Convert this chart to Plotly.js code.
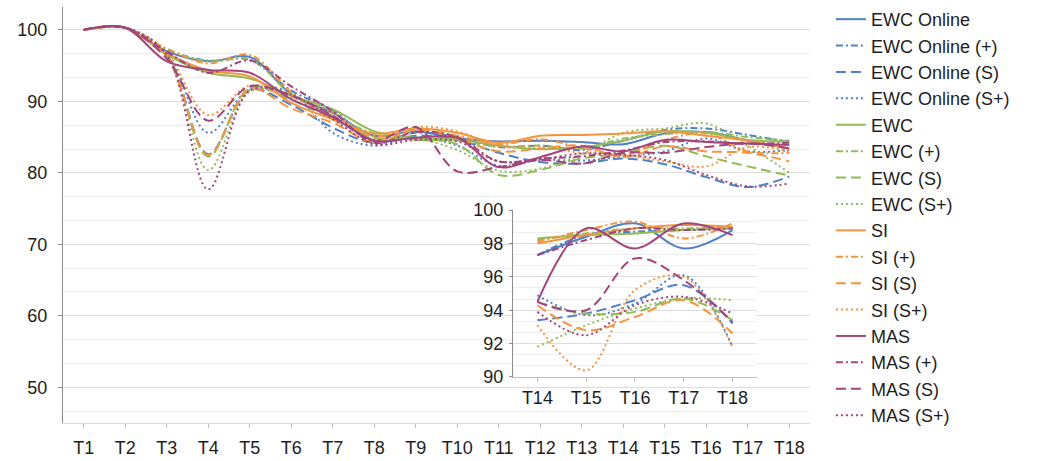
<!DOCTYPE html>
<html><head><meta charset="utf-8">
<script src="https://cdn.plot.ly/plotly-3.0.1.min.js"></script>
<style>html,body{margin:0;padding:0;background:#fff}</style>
</head><body><div id="chart" style="width:1043px;height:461px"></div>
<script>
// ---------- data ----------
const tasks = ['T1','T2','T3','T4','T5','T6','T7','T8','T9','T10','T11','T12','T13','T14','T15','T16','T17','T18'];
const insetTasks = ['T14','T15','T16','T17','T18'];
const seriesNames = ['EWC Online','EWC Online (+)','EWC Online (S)','EWC Online (S+)',
  'EWC','EWC (+)','EWC (S)','EWC (S+)','SI','SI (+)','SI (S)','SI (S+)','MAS','MAS (+)','MAS (S)','MAS (S+)'];

// main chart values (T1..T18)
const ewcOnline    = [100,100.3,97.0,95.6,96.2,91.0,88.4,85.2,85.8,84.8,84.4,84.5,84.3,84.0,85.5,85.7,84.5,83.4];
const ewcOnlineP   = [100,100.3,97.2,95.7,95.8,91.5,88.8,84.5,85.6,85.0,83.6,83.8,83.2,84.5,86.0,86.2,85.3,84.3];
const ewcOnlineS   = [100,100.3,96.5,82.6,91.6,89.5,86.3,84.2,85.2,84.6,82.8,81.5,81.3,82.0,81.2,79.4,78.0,79.5];
const ewcOnlineSP  = [100,100.3,96.8,85.6,91.7,91.2,85.6,83.8,85.0,83.8,81.0,81.8,81.7,82.3,83.0,84.8,83.0,83.2];
const ewc          = [100,100.3,96.5,94.0,93.2,90.8,88.9,85.8,84.9,84.7,83.8,83.3,83.6,84.5,85.8,85.6,84.6,84.4];
const ewcP         = [100,100.3,97.3,95.6,95.9,91.0,88.0,85.5,84.6,84.5,83.7,83.8,83.4,84.8,85.4,85.7,85.0,84.5];
const ewcS         = [100,100.3,96.2,82.3,91.9,90.2,87.5,84.9,84.7,84.0,79.7,80.4,82.0,82.7,83.8,82.3,80.9,79.6];
const ewcSP        = [100,100.3,96.6,80.4,91.4,90.6,87.7,85.0,84.8,83.2,80.3,80.6,82.6,85.6,86.2,86.9,83.8,80.0];
const si           = [100,100.3,96.7,94.3,93.5,89.8,87.5,85.5,86.2,85.6,84.2,85.2,85.3,85.5,85.8,85.2,84.5,83.4];
const siP          = [100,100.3,97.4,95.3,96.5,91.3,87.6,85.2,86.0,85.2,84.0,84.7,83.5,82.5,84.6,85.5,83.0,82.8];
const siS          = [100,100.3,96.3,82.5,91.7,89.0,87.0,84.3,86.0,84.8,83.0,83.4,83.8,82.2,83.7,83.0,82.8,81.6];
const siSP         = [100,100.3,96.6,88.1,92.2,90.7,88.5,84.7,86.4,85.8,83.8,83.6,82.8,82.5,81.6,80.9,83.6,83.0];
const mas          = [100,100.3,95.6,94.4,94.0,90.3,87.8,84.5,84.9,84.9,80.8,82.2,83.7,83.0,84.6,84.3,84.1,83.9];
const masP         = [100,100.3,96.9,94.0,95.7,92.1,88.6,84.2,85.7,85.0,81.6,82.0,82.3,83.1,84.3,84.4,84.1,84.2];
const masS         = [100,100.3,96.0,87.3,92.1,90.8,88.0,84.5,86.4,80.2,80.8,81.8,81.3,82.8,82.8,83.6,84.1,83.4];
const masSP        = [100,100.3,96.5,77.7,91.5,90.9,87.5,84.0,84.6,84.4,81.6,81.9,82.7,82.5,81.8,79.7,78.1,78.5];

// inset values (T14..T18)
const inEwcOnline   = [97.3,98.4,99.2,97.7,98.8];
const inEwcOnlineP  = [97.3,98.5,98.7,98.8,98.9];
const inEwcOnlineS  = [93.4,93.8,94.6,95.5,93.2];
const inEwcOnlineSP = [94.9,93.7,94.4,96.1,91.8];
const inEwc         = [98.3,98.5,98.6,98.8,98.9];
const inEwcP        = [98.2,98.6,98.9,98.9,99.0];
const inEwcS        = [94.5,93.8,93.9,94.7,93.4];
const inEwcSP       = [91.8,93.1,94.1,94.7,94.6];
const inSi          = [98.0,98.5,98.9,99.1,99.0];
const inSiP         = [98.1,98.8,99.3,98.3,99.2];
const inSiS         = [94.3,92.8,93.6,94.6,92.6];
const inSiSP        = [93.1,90.4,95.2,96.0,91.8];
const inMas         = [94.5,98.9,97.7,99.2,98.5];
const inMasP        = [97.3,98.2,98.9,98.8,98.9];
const inMasS        = [94.5,94.0,97.1,95.8,93.3];
const inMasSP       = [93.9,92.5,94.3,94.8,93.8];

const mainSeries = [ewcOnline,ewcOnlineP,ewcOnlineS,ewcOnlineSP,ewc,ewcP,ewcS,ewcSP,si,siP,siS,siSP,mas,masP,masS,masSP];
const insetSeries = [inEwcOnline,inEwcOnlineP,inEwcOnlineS,inEwcOnlineSP,inEwc,inEwcP,inEwcS,inEwcSP,inSi,inSiP,inSiS,inSiSP,inMas,inMasP,inMasS,inMasSP];

// ---------- styles ----------
const colors = ['#4f81c7','#93bb56','#f5943f','#a2457d'];
const dashes = ['solid','7px,3px,2px,3px','10px,5px','2px,3px'];
const FONT = 'Liberation Sans, Arial, Helvetica, sans-serif';

const traces = [];
mainSeries.forEach((vals, i) => {
  traces.push({
    x: tasks, y: vals, name: seriesNames[i], type: 'scatter', mode: 'lines',
    xaxis: 'x', yaxis: 'y',
    line: {color: colors[Math.floor(i/4)], dash: dashes[i%4], width: 2, shape: 'spline', smoothing: 1},
    hoverinfo: 'skip'
  });
});
insetSeries.forEach((vals, i) => {
  traces.push({
    x: insetTasks, y: vals, name: seriesNames[i], type: 'scatter', mode: 'lines',
    xaxis: 'x2', yaxis: 'y2', showlegend: false,
    line: {color: colors[Math.floor(i/4)], dash: dashes[i%4], width: 2, shape: 'spline', smoothing: 1},
    hoverinfo: 'skip'
  });
});

const layout = {
  width: 1043, height: 461,
  margin: {l: 63, r: 233, t: 7, b: 38, pad: 0, autoexpand: false},
  paper_bgcolor: '#ffffff', plot_bgcolor: '#ffffff',
  font: {family: FONT, size: 18, color: '#1e1e1e'},
  showlegend: true,
  legend: {x: 1.028, xanchor: 'left', y: 1.0145, yanchor: 'top', font: {size: 18, family: FONT, color: '#1e1e1e'},
           bgcolor: 'rgba(0,0,0,0)', borderwidth: 0, tracegroupgap: 0, maxheight: 461},
  xaxis: {type: 'category', range: [-0.5, 17.5], domain: [0, 1], showline: true, linecolor: '#d9d9d9', linewidth: 1,
          ticks: 'outside', ticklen: 4, tickcolor: '#bfbfbf', showgrid: false, zeroline: false,
          tickfont: {size: 18}, ticklabelstandoff: 4, fixedrange: true, automargin: false},
  yaxis: {range: [45, 103.2], dtick: 10, tick0: 0, showline: true, linecolor: '#8c8c8c', linewidth: 1,
          ticks: 'outside', ticklen: 4, tickcolor: '#8c8c8c', showgrid: true, gridcolor: '#dcdcdc', gridwidth: 1,
          minor: {dtick: 10/3, tick0: 0, showgrid: true, gridcolor: '#efefef', ticks: ''},
          zeroline: false, tickfont: {size: 18}, ticklabelstandoff: 7, fixedrange: true, automargin: false},
  xaxis2: {anchor: 'y2', domain: [0.6024, 0.929], type: 'category', range: [-0.5, 4.5], showline: true,
           linecolor: '#bfbfbf', ticks: 'outside', ticklen: 4, tickcolor: '#bfbfbf', showgrid: false, zeroline: false,
           tickfont: {size: 18}, ticklabelstandoff: 0, fixedrange: true},
  yaxis2: {anchor: 'x2', domain: [0.1106, 0.512], range: [90, 100], dtick: 2, tick0: 90, showline: true,
           linecolor: '#8c8c8c', ticks: 'outside', ticklen: 3, tickcolor: '#8c8c8c', showgrid: true,
           gridcolor: '#dcdcdc', minor: {dtick: 2/3, tick0: 90, showgrid: true, gridcolor: '#eeeeee', ticks: ''},
           zeroline: false, tickfont: {size: 18}, ticklabelstandoff: 2, fixedrange: true},
  shapes: [{type: 'rect', xref: 'x2 domain', yref: 'y2 domain', x0: -0.16, x1: 1.012, y0: -0.245, y1: 1.096,
            fillcolor: '#ffffff', line: {width: 0}, layer: 'below'}]
};

Plotly.newPlot('chart', traces, layout, {displayModeBar: false, staticPlot: true});
</script></body></html>
